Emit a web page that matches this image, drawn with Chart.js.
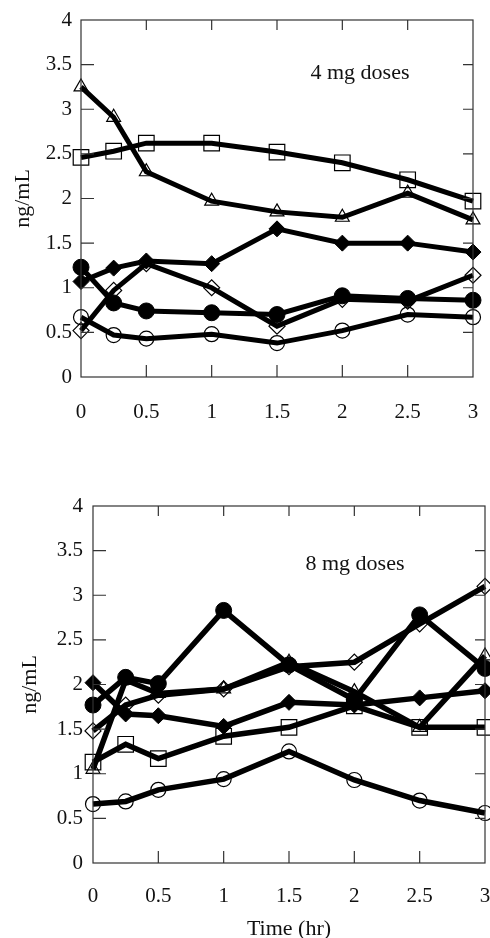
<!DOCTYPE html>
<html>
<head>
<meta charset="utf-8">
<script src="https://cdn.jsdelivr.net/npm/chart.js@4"></script>
<style>
  html, body { margin: 0; padding: 0; background: #fff; overflow: hidden; }
  #top { position: absolute; left: 0; top: 0; }
  #bottom { position: absolute; left: 0; top: 460px; }
</style>
</head>
<body>
<canvas id="top" width="490" height="460"></canvas>
<canvas id="bottom" width="490" height="482"></canvas>
<script>
// sampling times (hr)
const times = [0, 0.25, 0.5, 1, 1.5, 2, 2.5, 3];
const xTickValues = [0, 0.5, 1, 1.5, 2, 2.5, 3];
const yTickValues = [0, 0.5, 1, 1.5, 2, 2.5, 3, 3.5, 4];

// 4 mg doses (ng/mL)
const triangle4      = [3.25, 2.91, 2.30, 1.97, 1.85, 1.79, 2.06, 1.76];
const square4        = [2.46, 2.53, 2.62, 2.62, 2.52, 2.40, 2.21, 1.97];
const filledDiamond4 = [1.07, 1.22, 1.30, 1.27, 1.66, 1.50, 1.50, 1.40];
const openDiamond4   = [0.52, 0.97, 1.27, 1.00, 0.57, 0.87, 0.85, 1.14];
const filledCircle4  = [1.23, 0.83, 0.74, 0.72, 0.70, 0.91, 0.88, 0.86];
const openCircle4    = [0.67, 0.47, 0.43, 0.48, 0.38, 0.52, 0.70, 0.67];

// 8 mg doses (ng/mL)
const triangle8      = [1.05, 2.05, 1.90, 1.95, 2.25, 1.92, 1.52, 2.32];
const square8        = [1.13, 1.33, 1.17, 1.42, 1.52, 1.76, 1.52, 1.52];
const filledDiamond8 = [2.02, 1.67, 1.65, 1.53, 1.80, 1.77, 1.85, 1.93];
const openDiamond8   = [1.48, 1.77, 1.88, 1.95, 2.20, 2.25, 2.68, 3.10];
const filledCircle8  = [1.77, 2.08, 2.01, 2.83, 2.22, 1.83, 2.78, 2.18];
const openCircle8    = [0.66, 0.69, 0.82, 0.94, 1.25, 0.93, 0.70, 0.56];

Chart.defaults.font.family = '"Liberation Serif", "DejaVu Serif", serif';
Chart.defaults.color = '#111';

const markers = {
  triangle:      { pointStyle: 'triangle', pointRadius: 8,  filled: false },
  square:        { pointStyle: 'rect',     pointRadius: 11, filled: false },
  filledDiamond: { pointStyle: 'rectRot',  pointRadius: 8,  filled: true },
  openDiamond:   { pointStyle: 'rectRot',  pointRadius: 8,  filled: false },
  filledCircle:  { pointStyle: 'circle',   pointRadius: 8,  filled: true },
  openCircle:    { pointStyle: 'circle',   pointRadius: 7.5, filled: false }
};

function series(kind, values, width) {
  const m = markers[kind];
  return {
    label: kind,
    data: values.map((v, i) => ({ x: times[i], y: v })),
    borderColor: '#000',
    borderWidth: width,
    tension: 0,
    clip: false,
    pointStyle: m.pointStyle,
    pointRadius: m.pointRadius,
    pointHoverRadius: m.pointRadius,
    pointBorderWidth: m.filled ? 1 : 1.2,
    pointBorderColor: '#000',
    pointBackgroundColor: m.filled ? '#000' : 'rgba(0,0,0,0)'
  };
}

// frame with inward ticks on all four sides, plus the panel label
const framePlugin = {
  id: 'frame',
  afterDraw(chart, args, opts) {
    const { ctx, chartArea: a, scales } = chart;
    ctx.save();
    ctx.strokeStyle = '#333';
    ctx.lineWidth = 1.2;
    ctx.strokeRect(a.left, a.top, a.right - a.left, a.bottom - a.top);
    ctx.beginPath();
    scales.y.ticks.forEach(t => {
      if (t.value <= 0 || t.value >= 4) return;
      const py = scales.y.getPixelForValue(t.value);
      ctx.moveTo(a.left, py); ctx.lineTo(a.left + 13, py);
      ctx.moveTo(a.right, py); ctx.lineTo(a.right - 10, py);
    });
    scales.x.ticks.forEach(t => {
      if (t.value <= 0 || t.value >= 3) return;
      const px = scales.x.getPixelForValue(t.value);
      ctx.moveTo(px, a.bottom); ctx.lineTo(px, a.bottom - 12);
      ctx.moveTo(px, a.top); ctx.lineTo(px, a.top + 10);
    });
    ctx.stroke();

    ctx.fillStyle = '#111';
    ctx.font = '22px "Liberation Serif", serif';
    ctx.textAlign = 'center';
    ctx.textBaseline = 'middle';
    ctx.fillText(opts.text, opts.x, opts.y);
    ctx.restore();
  }
};

function makeChart(id, datasets, cfg) {
  return new Chart(document.getElementById(id), {
    type: 'line',
    data: { datasets: datasets },
    options: {
      responsive: false,
      animation: false,
      layout: { padding: cfg.padding, autoPadding: false },
      plugins: {
        legend: { display: false },
        tooltip: { enabled: false },
        frame: cfg.label
      },
      scales: {
        x: {
          type: 'linear',
          min: 0, max: 3,
          afterBuildTicks: s => { s.ticks = xTickValues.map(v => ({ value: v })); },
          afterFit: s => { s.height = cfg.xHeight; s.paddingLeft = 0; s.paddingRight = 0; },
          grid: { display: false, drawTicks: false },
          border: { display: false },
          ticks: { font: { size: 21 }, padding: cfg.xPad, color: '#111', maxRotation: 0, callback: v => String(v) },
          title: cfg.xTitle
        },
        y: {
          min: 0, max: 4,
          afterBuildTicks: s => { s.ticks = yTickValues.map(v => ({ value: v })); },
          afterFit: s => { s.width = cfg.yWidth; s.paddingTop = 0; s.paddingBottom = 0; },
          grid: { display: false, drawTicks: false },
          border: { display: false },
          ticks: { font: { size: 21 }, padding: cfg.yPad, color: '#111', callback: v => String(v) },
          title: { display: true, text: 'ng/mL', font: { size: 22 }, color: '#111', padding: { top: cfg.yTitlePad, bottom: 0 } }
        }
      }
    },
    plugins: [framePlugin]
  });
}

makeChart('top', [
  series('triangle', triangle4, 5),
  series('square', square4, 5),
  series('filledDiamond', filledDiamond4, 5),
  series('openDiamond', openDiamond4, 5),
  series('filledCircle', filledCircle4, 5),
  series('openCircle', openCircle4, 5)
], {
  padding: { top: 20, right: 17, bottom: 0, left: 0 },
  yWidth: 81, yPad: 9, yTitlePad: 10, xPad: 23, xHeight: 83,
  xTitle: { display: false },
  label: { text: '4 mg doses', x: 360, y: 73 }
});

makeChart('bottom', [
  series('triangle', triangle8, 5.5),
  series('square', square8, 5.5),
  series('filledDiamond', filledDiamond8, 5.5),
  series('openDiamond', openDiamond8, 5.5),
  series('filledCircle', filledCircle8, 5.5),
  series('openCircle', openCircle8, 5.5)
], {
  padding: { top: 46, right: 5, bottom: 0, left: 0 },
  yWidth: 93, yPad: 10, yTitlePad: 17, xPad: 21, xHeight: 79,
  xTitle: { display: true, text: 'Time (hr)', font: { size: 22 }, color: '#111', padding: { top: 5, bottom: 0 } },
  label: { text: '8 mg doses', x: 355, y: 104 }
});
</script>
</body>
</html>
